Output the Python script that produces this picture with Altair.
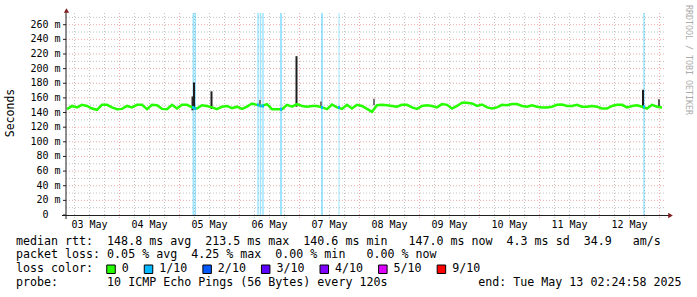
import altair as alt
import pandas as pd

# ---------------- data ----------------
# hours since 2025-05-03 00:00, one median sample every 2 hours from 03:00
START_HOUR = 3
STEP_HOURS = 2
median_ms = [
    144.6, 149, 147, 150.5, 149, 145.5, 143.7, 150.5, 150.5, 147, 144.6, 145,
    149, 147, 150.5, 150.5, 144.6, 150.5, 150, 145, 144.6, 150.5, 145.5, 150.5,
    150.5, 147, 145.5, 150, 149, 147, 144.6, 148, 149, 146, 148, 145,
    148, 152.3, 150.5, 149, 151.5, 144.6, 144.6, 144.6, 150.5, 148, 151.5, 149,
    148, 149, 149, 147, 144.6, 151, 147, 145, 150.5, 145.5, 150.5, 149,
    145, 141, 150, 150.5, 150, 149, 148, 150.5, 150.5, 147, 145, 149,
    150, 149, 147, 151.5, 150.5, 145.5, 149, 153.3, 153.3, 152.5, 149, 151,
    147, 145.5, 147, 150.5, 150, 151.5, 151.5, 149, 148, 150, 148, 147,
    147, 148, 150.5, 151, 149, 149, 150.5, 148, 148, 149, 148, 145.5,
    145.5, 149, 150.5, 150.5, 147, 149, 150, 148, 145.5, 150.5, 148, 147,
]

# 1/10 packet loss events (hour, stripe width)
loss_hours = [53.5, 54.3, 79.4, 80.4, 81.4, 88.6, 105.0, 111.8, 233.8]
loss_width = [1.5, 1.5, 1.5, 1.5, 1.5, 2.0, 2.0, 1.0, 1.5]

# smoke spikes (hour, low ms, high ms, shade)
spike_hours = [53.2, 53.8, 60.8, 94.8, 233.4, 239.8, 125.8, 80.2, 104.6]
spike_low = [143, 145, 145, 148, 146, 148, 150, 150, 149]
spike_high = [162, 181, 169, 217, 171, 158, 159, 157, 155]
spike_color = ["#2a2a2a", "#1e1e1e", "#1e1e1e", "#1e1e1e", "#1e1e1e",
               "#555555", "#777777", "#777777", "#777777"]

day_labels = ["03 May", "04 May", "05 May", "06 May", "07 May",
              "08 May", "09 May", "10 May", "11 May", "12 May"]
day_label_hours = [12 + 24 * i for i in range(len(day_labels))]

y_tick_values = list(range(0, 261, 20))
y_tick_labels = ["0"] + [f"{v} m" for v in y_tick_values[1:]]

loss_labels = ["0", "1/10", "2/10", "3/10", "4/10", "5/10", "9/10"]
loss_colors = ["#26ff00", "#00b8ff", "#0059ff", "#5e00ff", "#7e00ff",
               "#dd00ff", "#ff0000"]

line1 = "median rtt:  148.8 ms avg  213.5 ms max  140.6 ms min   147.0 ms now  4.3 ms sd  34.9   am/s"
line2 = "packet loss: 0.05 % avg  4.25 % max  0.00 % min   0.00 % now"
line3 = "loss color:"
line4 = "probe:       10 ICMP Echo Pings (56 Bytes) every 120s"
end_text = "end: Tue May 13 02:24:58 2025"

# ---------------- layout ----------------
W, H = 600, 202
LEFT, TOP = 66, 13
X_DOMAIN = [2.6, 242.6]
Y_DOMAIN = [0, 276]
MONO = "DejaVu Sans Mono"
NB = "\u00a0"
AX_CH = 6.02   # character advance of the 10 px axis font


def px(x):
    return x - LEFT


def py(y):
    return y - TOP


def nb(s):
    return s.replace(" ", NB)


xs = alt.Scale(domain=X_DOMAIN, nice=False, zero=False)
ys = alt.Scale(domain=Y_DOMAIN, nice=False, zero=False)

med_df = pd.DataFrame({
    "h": [START_HOUR + STEP_HOURS * i for i in range(len(median_ms))],
    "v": median_ms,
})
loss_df = pd.DataFrame({"h": loss_hours, "w": loss_width})
loss_df["m"] = [median_ms[min(len(median_ms) - 1, max(0, round((h - START_HOUR) / STEP_HOURS)))]
                for h in loss_hours]
loss_df["lo"] = loss_df["m"] - 2
loss_df["hi"] = loss_df["m"] + 2
spike_df = pd.DataFrame({"h": spike_hours, "lo": spike_low, "hi": spike_high, "c": spike_color})

hminor = pd.DataFrame({"v": [v for v in range(10, 276, 10) if v % 20]})
hmajor = pd.DataFrame({"v": list(range(20, 261, 20))})
vminor = pd.DataFrame({"h": [h for h in range(6, 243, 6) if h % 24]})
vmajor = pd.DataFrame({"h": list(range(24, 241, 24))})
days_df = pd.DataFrame({"h": day_label_hours, "t": day_labels})
ylab_df = pd.DataFrame({
    "v": y_tick_values,
    "t": [nb(s) for s in y_tick_labels],
    # labels without the unit keep the unit's column free (right edge shifted)
    "rx": [px(60.5) - (0 if s.endswith(" m") else 2 * AX_CH) for s in y_tick_labels],
})
one = pd.DataFrame({"a": [0]})

GRID = "#8f8f8f"
MGRID = "#de4f4f"
AXIS = "#1f1f1f"
ARROW = "#801f1f"

g_hminor = alt.Chart(hminor).mark_rule(color=GRID, opacity=0.55, strokeDash=[1, 2], strokeWidth=1).encode(
    y=alt.Y("v:Q", scale=ys, axis=None), x=alt.value(0), x2=alt.value(W))
g_hmajor = alt.Chart(hmajor).mark_rule(color=MGRID, opacity=0.5, strokeDash=[1, 2], strokeWidth=1).encode(
    y=alt.Y("v:Q", scale=ys, axis=None), x=alt.value(0), x2=alt.value(W))
g_vminor = alt.Chart(vminor).mark_rule(color=GRID, opacity=0.55, strokeDash=[1, 2], strokeWidth=1).encode(
    x=alt.X("h:Q", scale=xs, axis=None), y=alt.value(0), y2=alt.value(py(218)))
g_vmajor = alt.Chart(vmajor).mark_rule(color=MGRID, opacity=0.5, strokeDash=[1, 2], strokeWidth=1).encode(
    x=alt.X("h:Q", scale=xs, axis=None), y=alt.value(0), y2=alt.value(py(218)))

stripes = alt.Chart(loss_df).mark_rule(color="#00b8ff", opacity=0.38).encode(
    x=alt.X("h:Q", scale=xs, axis=None), y=alt.value(0), y2=alt.value(py(215)),
    strokeWidth=alt.StrokeWidth("w:Q", scale=None))

spikes = alt.Chart(spike_df).mark_rule(strokeWidth=2).encode(
    x=alt.X("h:Q", scale=xs, axis=None), y=alt.Y("lo:Q", scale=ys, axis=None), y2="hi:Q",
    color=alt.Color("c:N", scale=None))

median = alt.Chart(med_df).mark_line(color="#26ff00", strokeWidth=2.5, interpolate="linear").encode(
    x=alt.X("h:Q", scale=xs, axis=None), y=alt.Y("v:Q", scale=ys, axis=None))

loss_marks = alt.Chart(loss_df).mark_rule(color="#00b8ff", strokeWidth=2).encode(
    x=alt.X("h:Q", scale=xs, axis=None), y=alt.Y("lo:Q", scale=ys, axis=None), y2="hi:Q")

# y axis ticks and labels
y_ticks = alt.Chart(ylab_df).mark_rule(color=AXIS, strokeWidth=1).encode(
    y=alt.Y("v:Q", scale=ys, axis=None), x=alt.value(-3), x2=alt.value(0))
y_labels = alt.Chart(ylab_df).mark_text(font=MONO, fontSize=10, color="black", align="right",
                                        baseline="middle").encode(
    y=alt.Y("v:Q", scale=ys, axis=None), x=alt.X("rx:Q", scale=None), text="t:N")

y_axis_line = alt.Chart(one).mark_rule(color=AXIS, strokeWidth=1).encode(
    x=alt.value(0), y=alt.value(py(11)), y2=alt.value(py(219)))
x_axis_line = alt.Chart(one).mark_rule(color=AXIS, strokeWidth=1).encode(
    x=alt.value(px(62)), x2=alt.value(px(669)), y=alt.value(py(215.5)))
arrow_up = alt.Chart(one).mark_point(shape="triangle-up", filled=True, size=28, color=ARROW, opacity=1).encode(
    x=alt.value(0.5), y=alt.value(py(10.5)))
arrow_right = alt.Chart(one).mark_point(shape="triangle-right", filled=True, size=28, color=ARROW, opacity=1).encode(
    x=alt.value(px(670.5)), y=alt.value(py(215.5)))

day_text = alt.Chart(days_df).mark_text(font=MONO, fontSize=10, color="black", baseline="middle", align="center").encode(
    x=alt.X("h:Q", scale=xs, axis=None), y=alt.value(py(225)), text="t:N")

title_y = alt.Chart(one).mark_text(font=MONO, fontSize=11.5, color="black", angle=270,
                                   align="center", baseline="middle").encode(
    x=alt.value(px(11)), y=alt.value(py(113)), text=alt.value("Seconds"))

credit = alt.Chart(one).mark_text(font=MONO, fontSize=8.3, color="#ababab", angle=90,
                                  align="center", baseline="middle").encode(
    x=alt.value(px(688)), y=alt.value(py(60)), text=alt.value(nb("RRDTOOL / TOBI OETIKER")))

LEG_SIZE = 11.65
CH = 7.02


def legend_line(txt, y):
    return alt.Chart(one).mark_text(font=MONO, fontSize=LEG_SIZE, color="black", align="left",
                                    baseline="middle").encode(
        x=alt.value(px(16)), y=alt.value(py(y)), text=alt.value(nb(txt)))


l1 = legend_line(line1, 241.5)
l2 = legend_line(line2, 255.2)
l3 = legend_line(line3, 269.0)
l4 = legend_line(line4, 282.6)
end_l = alt.Chart(one).mark_text(font=MONO, fontSize=LEG_SIZE, color="black", align="right",
                                 baseline="middle").encode(
    x=alt.value(px(681.5)), y=alt.value(py(282.6)), text=alt.value(nb(end_text)))

# loss colour legend boxes, laid out like rrdtool's monospace legend
bx, rows = 16 + 13 * CH - 0.5, []
for lab, col in zip(loss_labels, loss_colors):
    lx = bx + 15
    rows.append({"bx": px(bx), "bx2": px(bx + 8.5), "lx": px(lx), "t": lab, "c": col})
    bx = lx + len(lab) * CH + 15.5
leg_df = pd.DataFrame(rows)

leg_boxes = alt.Chart(leg_df).mark_rect(stroke="black", strokeWidth=1).encode(
    x=alt.X("bx:Q", scale=None), x2="bx2:Q",
    y=alt.value(py(265)), y2=alt.value(py(273.5)),
    fill=alt.Color("c:N", scale=None))
leg_text = alt.Chart(leg_df).mark_text(font=MONO, fontSize=LEG_SIZE, color="black", align="left",
                                       baseline="middle").encode(
    x=alt.X("lx:Q", scale=None), y=alt.value(py(269.0)), text="t:N")

chart = alt.layer(
    g_hminor, g_hmajor, g_vminor, g_vmajor,
    stripes, spikes, median, loss_marks,
    y_ticks, y_labels,
    y_axis_line, x_axis_line, arrow_up, arrow_right,
    day_text, title_y, credit,
    l1, l2, l3, l4, end_l, leg_boxes, leg_text,
).properties(
    width=W, height=H,
    autosize=alt.AutoSizeParams(type="none"),
    padding={"left": LEFT, "top": TOP, "right": 697 - LEFT - W, "bottom": 297 - TOP - H},
    background="white",
).configure_view(stroke=None)

chart.save("out.html", embed_options={"renderer": "svg", "actions": False})
